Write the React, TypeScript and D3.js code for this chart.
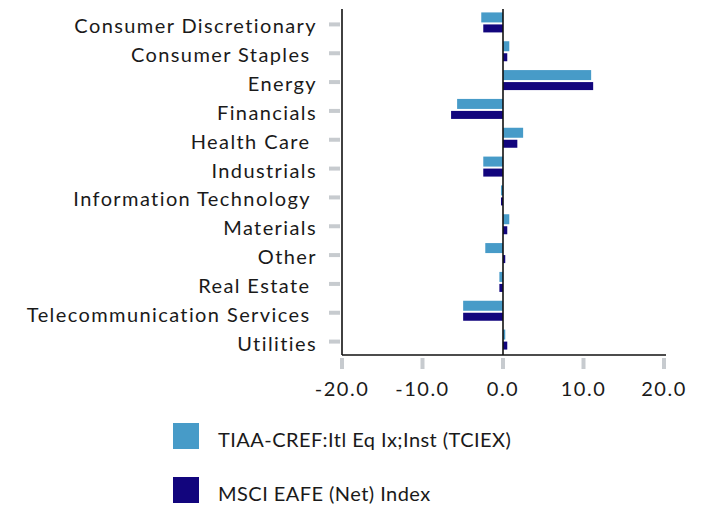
import React, { useEffect, useRef } from 'react';
import * as d3 from 'd3';

const categories = [
  'Consumer Discretionary',
  'Consumer Staples ',
  'Energy',
  'Financials',
  'Health Care ',
  'Industrials',
  'Information Technology ',
  'Materials',
  'Other',
  'Real Estate ',
  'Telecommunication Services ',
  'Utilities',
];
const fundValues = [-2.7, 0.78, 10.95, -5.7, 2.5, -2.45, -0.25, 0.78, -2.2, -0.45, -4.95, 0.28];
const indexValues = [-2.45, 0.53, 11.2, -6.45, 1.78, -2.45, -0.25, 0.53, 0.28, -0.45, -4.95, 0.53];
const xTicks = [-20, -10, 0, 10, 20];
const seriesNames = ['TIAA-CREF:Itl Eq Ix;Inst (TCIEX)', 'MSCI EAFE (Net) Index'];

const LIGHT = '#479bc8';
const DARK = '#12057d';
const FONT = 'Lato, "Open Sans", sans-serif';
const INK = '#1a1a1a';

export default function App() {
  const svgRef = useRef<SVGSVGElement | null>(null);

  useEffect(() => {
    if (!svgRef.current) return;
    const W = 701;
    const H = 506;
    const M = { top: 9, left: 342, right: 37, bottom: 151 };
    const innerW = W - M.left - M.right;
    const innerH = H - M.top - M.bottom;

    const svg = d3.select(svgRef.current);
    svg.selectAll('*').remove();
    const g = svg.append('g').attr('transform', `translate(${M.left},${M.top})`);

    const x = d3.scaleLinear().domain([-20, 20]).range([0, innerW]);
    const y = d3.scaleBand<number>().domain(d3.range(categories.length)).range([0, innerH]);

    // category tick marks and labels
    g.selectAll('rect.ytick')
      .data(categories)
      .enter()
      .append('rect')
      .attr('x', -13)
      .attr('y', (_, i) => y(i)! + y.bandwidth() / 2 - 1)
      .attr('width', 11)
      .attr('height', 4)
      .attr('fill', '#c7cbcf');

    g.selectAll('text.ylab')
      .data(categories)
      .enter()
      .append('text')
      .attr('x', -25)
      .attr('y', (_, i) => y(i)! + y.bandwidth() / 2 + 10)
      .attr('text-anchor', 'end')
      .attr('font-family', FONT)
      .attr('font-size', 20)
      .attr('letter-spacing', 1.4)
      .attr('fill', INK)
      .style('white-space', 'pre')
      .text(d => d);

    // bars
    g.selectAll('rect.fund')
      .data(fundValues)
      .enter()
      .append('rect')
      .attr('x', d => x(Math.min(0, d)))
      .attr('y', (_, i) => y(i)! + y.bandwidth() / 2 - 11)
      .attr('width', d => Math.abs(x(d) - x(0)))
      .attr('height', 10)
      .attr('fill', LIGHT);

    g.selectAll('rect.idx')
      .data(indexValues)
      .enter()
      .append('rect')
      .attr('x', d => x(Math.min(0, d)))
      .attr('y', (_, i) => y(i)! + y.bandwidth() / 2 + 1)
      .attr('width', d => Math.abs(x(d) - x(0)))
      .attr('height', 8)
      .attr('fill', DARK);

    // x ticks
    g.selectAll('rect.xtick')
      .data(xTicks)
      .enter()
      .append('rect')
      .attr('x', d => x(d) - 2)
      .attr('y', innerH + 3)
      .attr('width', 4)
      .attr('height', 11)
      .attr('fill', '#c7cbcf');

    g.selectAll('text.xlab')
      .data(xTicks)
      .enter()
      .append('text')
      .attr('x', d => x(d))
      .attr('y', innerH + 41)
      .attr('text-anchor', 'middle')
      .attr('font-family', FONT)
      .attr('font-size', 20)
      .attr('letter-spacing', 1.5)
      .attr('fill', INK)
      .text(d => d.toFixed(1));

    // axes lines
    const axisLine = (x1: number, x2: number, y1: number, y2: number) =>
      g.append('line')
        .attr('x1', x1).attr('x2', x2)
        .attr('y1', y1).attr('y2', y2)
        .attr('stroke', '#111').attr('stroke-width', 1.6);
    axisLine(x(0), x(0), 0, innerH);
    axisLine(0, 0, 0, innerH);
    axisLine(0, innerW + 2, innerH, innerH);

    // legend
    const legend = svg.append('g');
    [LIGHT, DARK].forEach((c, i) => {
      legend.append('rect')
        .attr('x', 173)
        .attr('y', 423 + i * 54)
        .attr('width', 26)
        .attr('height', 26)
        .attr('fill', c);
      legend.append('text')
        .attr('x', 218)
        .attr('y', 447 + i * 54)
        .attr('font-family', FONT)
        .attr('font-size', 20)
        .attr('letter-spacing', 0.45)
        .attr('fill', INK)
        .text(seriesNames[i]);
    });
  }, []);

  return (
    <div style={{ position: 'absolute', left: 0, top: 0, width: 701, height: 506, background: '#fff' }}>
      <svg ref={svgRef} width={701} height={506} style={{ display: 'block' }} />
    </div>
  );
}
